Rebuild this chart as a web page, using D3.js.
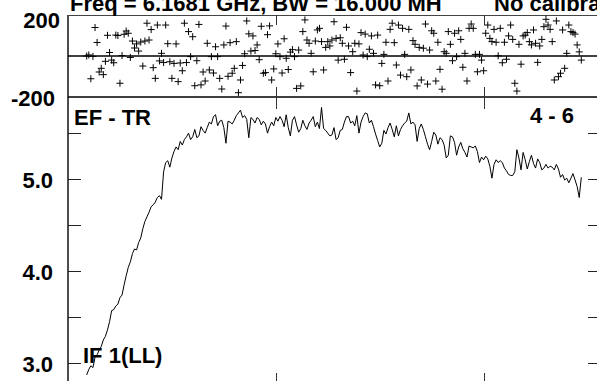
<!DOCTYPE html>
<html>
<head>
<meta charset="utf-8">
<script src="https://cdn.jsdelivr.net/npm/d3@7/dist/d3.min.js"></script>
<style>
html,body{margin:0;padding:0;background:#fff;overflow:hidden;}
svg{display:block;}
text{font-family:"Liberation Sans",Arial,Helvetica,sans-serif;font-weight:bold;fill:#000;}
</style>
</head>
<body>
<svg id="chart" width="597" height="381"></svg>
<script>
// ---- data ----
const titleText = "Freq = 6.1681 GHz, BW = 16.000 MH";
const titleText2 = "No calibration applied";
const sourceLabel = "EF - TR";
const baselineLabel = "4 - 6";
const ifLabel = "IF 1(LL)";
const firstChannel = 9;
const channelDomain = [0, 256];
const channelTicks = [100, 200];
const phaseDomain = [-200, 200];
const phaseTickLabels = ["200", "-200"];
const ampDomain = [2.75, 5.893];
const ampMajorTicks = [3.0, 4.0, 5.0];
const ampMinorTicks = [3.5, 4.5, 5.5];

const amplitude = [
 2.87, 2.93, 2.97, 2.95, 3.06, 3.09, 3.14, 3.18, 3.25, 3.29, 3.36, 3.45,
 3.57, 3.58, 3.62, 3.64, 3.71, 3.74, 3.85, 3.95, 4.04, 4.10,
 4.19, 4.24, 4.23, 4.31, 4.36, 4.46, 4.54, 4.59, 4.64, 4.70,
 4.72, 4.75, 4.80, 4.82, 4.78, 5.08, 5.18, 5.20, 5.13, 5.23,
 5.30, 5.35, 5.32, 5.41, 5.37, 5.43, 5.46, 5.50, 5.43, 5.46,
 5.54, 5.45, 5.47, 5.57, 5.53, 5.50, 5.56, 5.62, 5.60, 5.68,
 5.70, 5.58, 5.63, 5.64, 5.56, 5.39, 5.63, 5.62, 5.60, 5.64,
 5.69, 5.72, 5.75, 5.67, 5.69, 5.65, 5.45, 5.67, 5.65, 5.61,
 5.67, 5.65, 5.59, 5.63, 5.60, 5.50, 5.57, 5.62, 5.58, 5.67,
 5.63, 5.68, 5.64, 5.57, 5.70, 5.56, 5.47, 5.64, 5.68, 5.59,
 5.51, 5.55, 5.64, 5.58, 5.54, 5.61, 5.64, 5.68, 5.57, 5.62,
 5.55, 5.78, 5.55, 5.53, 5.50, 5.47, 5.48, 5.56, 5.43, 5.45,
 5.53, 5.54, 5.62, 5.68, 5.68, 5.61, 5.63, 5.58, 5.69, 5.50,
 5.62, 5.68, 5.72, 5.71, 5.61, 5.64, 5.57, 5.49, 5.42, 5.35,
 5.39, 5.53, 5.49, 5.56, 5.61, 5.54, 5.46, 5.58, 5.47, 5.54,
 5.58, 5.61, 5.63, 5.72, 5.60, 5.62, 5.59, 5.41, 5.55, 5.60,
 5.54, 5.46, 5.38, 5.32, 5.41, 5.51, 5.48, 5.38, 5.45, 5.43,
 5.37, 5.23, 5.26, 5.47, 5.46, 5.40, 5.26, 5.35, 5.40, 5.33,
 5.29, 5.24, 5.36, 5.35, 5.34, 5.36, 5.30, 5.18, 5.24, 5.21,
 5.25, 5.22, 5.14, 5.01, 5.16, 5.21, 5.18, 5.20, 5.18, 5.12,
 5.09, 5.05, 5.04, 5.04, 5.08, 5.32, 5.23, 5.10, 5.29, 5.21,
 5.11, 5.19, 5.26, 5.17, 5.12, 5.22, 5.18, 5.10, 5.12, 5.16,
 5.12, 5.14, 5.13, 5.10, 5.16, 5.11, 5.02, 5.05, 4.99, 5.01,
 4.96, 5.01, 5.06, 4.99, 4.92, 4.80, 5.02
];

const phase = [
 0, 5, -111, -2, 139, 66, -78, -60, -91, -26, 101, 17,
 -20, -33, 102, 100, -133, 2, 106, 122, 111, -7,
 73, 39, 59, 24, 68, -49, 73, 160, 78, 129,
 -57, -109, 151, -24, 13, -32, 151, 60, -28, -109,
 -36, 59, -125, -34, -72, 160, -32, 119, -3, 94,
 -145, -23, 154, -141, -78, -122, 62, -68, -3, -83,
 45, -3, -109, -161, 54, 146, -99, 65, -84, -60,
 70, -179, -117, -46, 11, 171, 108, 24, 98, 27,
 54, -18, 145, -84, -81, 104, 147, -117, -63, 11,
 59, -3, -83, 84, -11, -66, 19, 31, -3, -158,
 29, -146, 119, 176, 78, 62, 13, -77, 73, 127,
 135, 70, -68, 42, 70, 49, 78, 167, 86, -20,
 89, 62, -16, 140, 49, -81, 21, 62, -171, 59,
 114, 5, 107, -3, 33, 98, 13, -141, 102, -145,
 -36, 8, 67, -122, 130, 160, 65, -44, 151, -93,
 135, 8, -101, 130, -68, 75, 57, -146, 42, -117,
 38, 156, -137, 29, 123, 111, -122, 67, -65, -162,
 21, 13, 119, 57, -23, 111, -3, 123, 81, -55,
 13, -122, 135, 156, 135, 8, -77, 8, -20, -72,
 111, 151, 86, 70, 130, 67, 1, 135, -33, 67,
 -16, 98, 151, 81, -133, -171, 57, -40, 98, 102,
 114, 70, 54, 127, 62, -31, 49, 81, 143, 179,
 151, 130, 70, -117, 171, -101, -84, 127, -60, 13,
 151, 119, 114, 107, 54, 20, -20
];

// ---- layout ----
const svg = d3.select("#chart");
const L = 68, R = 600;
const phTop = 15, phBot = 97, ampTop = 97, ampBot = 386;

const x = d3.scaleLinear().domain(channelDomain).range([L, R]);
const yPh = d3.scaleLinear().domain(phaseDomain).range([phBot, phTop]);
const yAmp = d3.scaleLinear().domain(ampDomain).range([ampBot, ampTop]);

const ampData = amplitude.map((v, i) => ({ch: firstChannel + i, v}));
const phData = phase.map((v, i) => ({ch: firstChannel + i, v}));

// frame lines
const g = svg.append("g").attr("stroke", "#000").attr("fill", "none");
g.append("line").attr("x1", L).attr("x2", L).attr("y1", phTop).attr("y2", 381).attr("stroke-width", 1.4);
g.append("line").attr("x1", L).attr("x2", 597).attr("y1", phTop + 0.5).attr("y2", phTop + 0.5).attr("stroke-width", 1).attr("stroke", "#444");
g.append("line").attr("x1", L).attr("x2", 597).attr("y1", yPh(0)).attr("y2", yPh(0)).attr("stroke-width", 1.3);
g.append("line").attr("x1", L).attr("x2", 597).attr("y1", phBot).attr("y2", phBot).attr("stroke-width", 1.5);

// x ticks
channelTicks.forEach(c => {
  const xx = Math.round(x(c)) + 0.5;
  [[phTop, phTop + 10], [phBot - 10, phBot], [ampTop, ampTop + 12], [ampBot - 13, ampBot]].forEach(([a, b]) => {
    g.append("line").attr("x1", xx).attr("x2", xx).attr("y1", a).attr("y2", b).attr("stroke-width", 1).attr("stroke", "#333");
  });
});

// amp y ticks
ampMajorTicks.concat(ampMinorTicks).forEach(t => {
  const yy = Math.round(yAmp(t)) + 0.5;
  g.append("line").attr("x1", L).attr("x2", L + 13).attr("y1", yy).attr("y2", yy).attr("stroke-width", 1).attr("stroke", "#222");
  g.append("line").attr("x1", R - 12).attr("x2", R).attr("y1", yy).attr("y2", yy).attr("stroke-width", 1).attr("stroke", "#222");
});

// amplitude line
const line = d3.line().x(d => x(d.ch)).y(d => yAmp(d.v));
svg.append("path").datum(ampData).attr("d", line)
  .attr("fill", "none").attr("stroke", "#000").attr("stroke-width", 1).attr("stroke-linejoin", "miter");

// phase markers
const s = 3.5;
svg.append("g").selectAll("path").data(phData).join("path")
  .attr("d", d => {
    const cx = x(d.ch), cy = yPh(d.v);
    return `M${cx - s},${cy}H${cx + s}M${cx},${cy - s}V${cy + s}`;
  })
  .attr("stroke", "#000").attr("stroke-width", 1).attr("fill", "none");

// texts
const fs = 22;
svg.append("text").attr("x", 70).attr("y", 11).attr("font-size", fs).text(titleText);
svg.append("text").attr("x", 494).attr("y", 11).attr("font-size", fs).text(titleText2);
svg.append("text").attr("x", 60).attr("y", 28).attr("font-size", fs).attr("text-anchor", "end").text(phaseTickLabels[0]);
svg.append("text").attr("x", 55).attr("y", 106).attr("font-size", fs).attr("text-anchor", "end").text(phaseTickLabels[1]);
ampMajorTicks.forEach(t => {
  svg.append("text").attr("x", 53).attr("y", yAmp(t) + 8.5).attr("font-size", fs)
    .attr("text-anchor", "end").text(d3.format(".1f")(t));
});
svg.append("text").attr("x", 74).attr("y", 125).attr("font-size", fs).text(sourceLabel);
svg.append("text").attr("x", 574).attr("y", 123).attr("font-size", fs).attr("text-anchor", "end").text(baselineLabel);
svg.append("text").attr("x", 83).attr("y", 363).attr("font-size", fs).text(ifLabel);
</script>
</body>
</html>
